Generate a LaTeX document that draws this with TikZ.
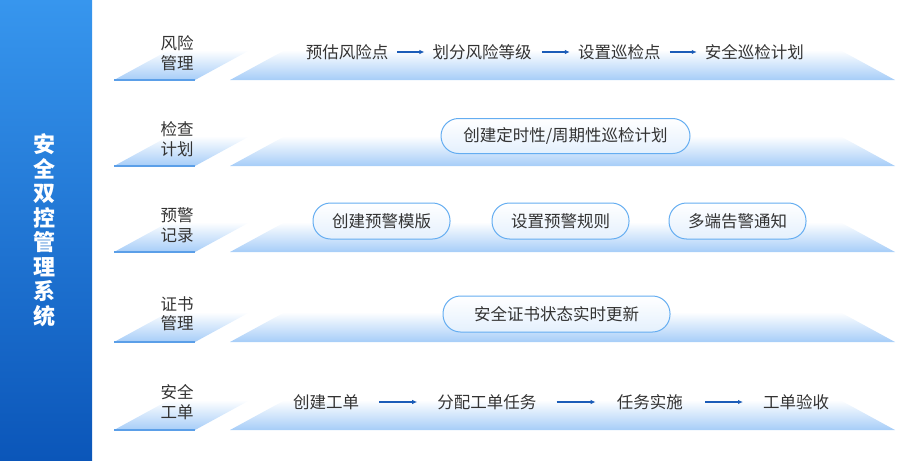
\documentclass[tikz,border=0pt]{standalone}
\usepackage{fontspec}
\setmainfont{Noto Sans CJK SC}
\usepackage{tikz}
\usetikzlibrary{positioning,arrows.meta}
\definecolor{barTop}{HTML}{3796EE}
\definecolor{barBot}{HTML}{0B56B9}
\definecolor{fadeblue}{HTML}{A6CDF8}
\definecolor{edgeblue}{HTML}{5B9FE8}
\definecolor{pillblue}{HTML}{64ADF1}
\definecolor{pillfill}{HTML}{E4F0FD}
\definecolor{arrowblue}{HTML}{1B5CB8}
\definecolor{txtgray}{HTML}{333333}

\begin{document}
\begin{tikzpicture}[x=1pt,y=-1pt,node distance=44pt,
    txt/.style={inner sep=0pt,text=txtgray,font=\fontsize{16.5}{19.5}\selectfont},
    lbl/.style={txt,align=center},
    pill/.style={txt,draw=pillblue,line width=1pt,rounded corners=17.5pt,top color=white,bottom color=pillfill,minimum height=35pt},
    flow/.style={-{Latex[length=5pt,width=4.5pt]},draw=arrowblue,line width=1.1pt}]
%
   \useasboundingbox (0,0) rectangle (909,460);
   \shade[top color=barTop,bottom color=barBot] (0,0) rectangle (92,460);
   \node[text=white,align=center,inner sep=0pt,font=\fontsize{22}{24.5}\selectfont\bfseries] (title) at (44,230)
        {安\\全\\双\\控\\管\\理\\系\\统};
%
   \foreach \b in {80,166,252,342,430} {
      \shade[top color=white,bottom color=fadeblue] (114,\b) -- (195,\b) -- (250,\b-30) -- (169,\b-30) -- cycle;
      \draw[edgeblue,line width=1.5pt] (114,\b) -- (195,\b);
      \shade[top color=white,bottom color=fadeblue] (230,\b) -- (895,\b) -- (840,\b-30) -- (285,\b-30) -- cycle;
   }
%
   \node[lbl] (L1) at (177,53)  {风险\\管理};
   \node[lbl] (L2) at (177,139) {检查\\计划};
   \node[lbl] (L3) at (177,225) {预警\\记录};
   \node[lbl] (L4) at (177,314) {证书\\管理};
   \node[lbl] (L5) at (177,402) {安全\\工单};
%
   \node[txt] (R1) at (347,52)   {预估风险点};
   \node[txt] (R2) [right=of R1] {划分风险等级};
   \node[txt] (R3) [right=46pt of R2] {设置巡检点};
   \node[txt] (R4) [right=of R3] {安全巡检计划};
   \draw[flow,shorten <=9pt,shorten >=8pt] (R1) -- (R2);
   \draw[flow,shorten <=10pt,shorten >=8pt] (R2) -- (R3);
   \draw[flow,shorten <=9pt,shorten >=8pt] (R3) -- (R4);
%
   \node[pill,minimum width=249pt] (P1) at (565.5,136) {创建定时性/周期性巡检计划};
%
   \node[pill,minimum width=137pt,minimum height=36pt] (W1) at (381.5,221) {创建预警模版};
   \node[pill,minimum width=137pt,minimum height=36pt] (W2) [right=41pt of W1] {设置预警规则};
   \node[pill,minimum width=137pt,minimum height=36pt] (W3) [right=39pt of W2] {多端告警通知};
%
   \node[pill,minimum width=227pt,minimum height=36pt] (C1) at (556.5,314) {安全证书状态实时更新};
%
   \node[txt] (G1) at (326,402)  {创建工单};
   \node[txt] (G2) [right=78pt of G1] {分配工单任务};
   \node[txt] (G3) [right=80pt of G2] {任务实施};
   \node[txt] (G4) [right=80pt of G3] {工单验收};
   \draw[flow,shorten <=20pt,shorten >=20pt] (G1) -- (G2);
   \draw[flow,shorten <=20pt,shorten >=21pt] (G2) -- (G3);
   \draw[flow,shorten <=22pt,shorten >=20pt] (G3) -- (G4);
\end{tikzpicture}
\end{document}
